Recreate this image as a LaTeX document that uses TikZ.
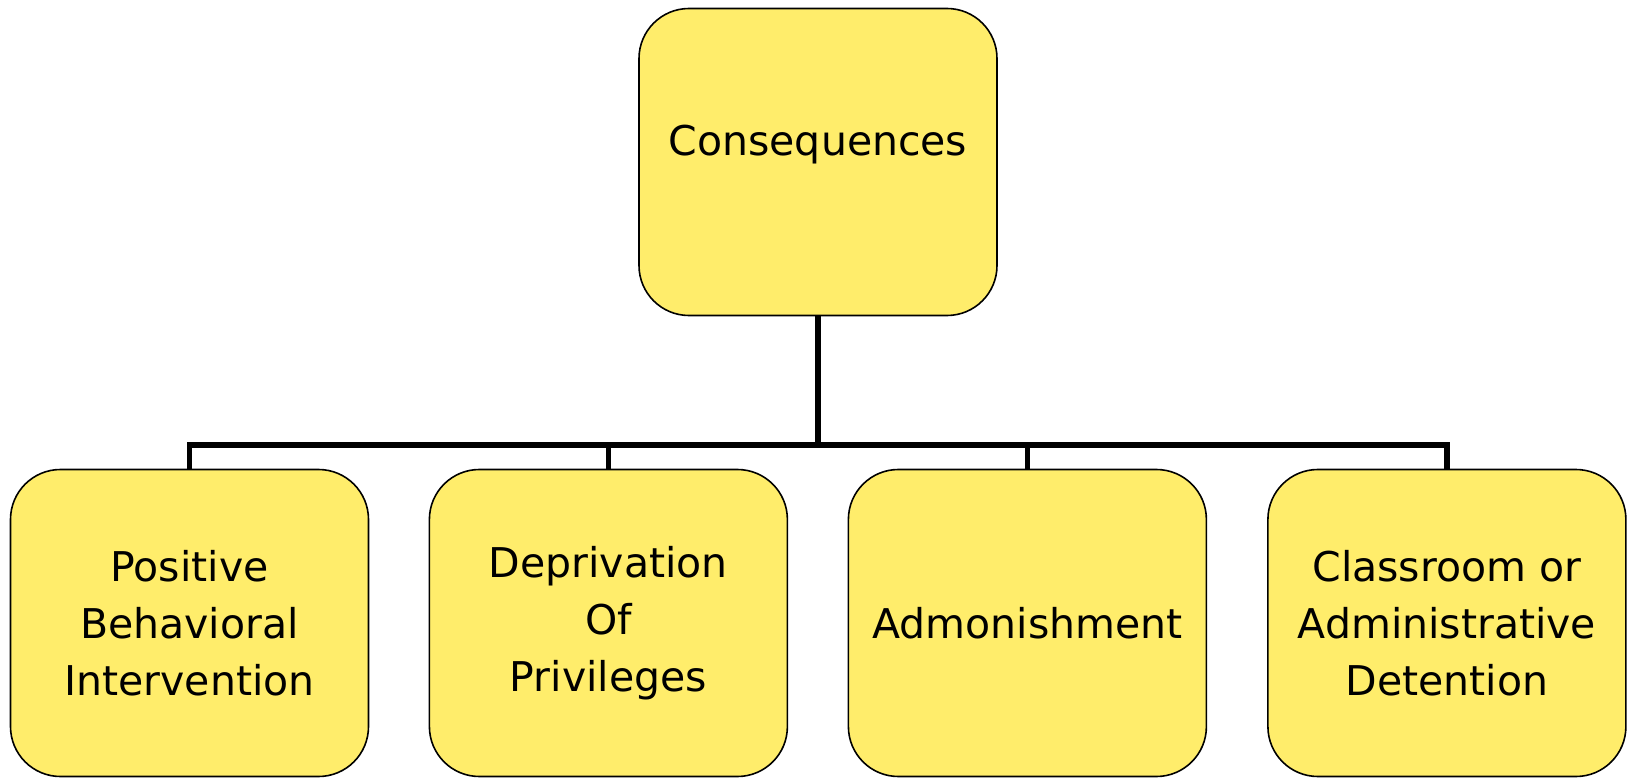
\documentclass[tikz,border=0pt]{standalone}
\usepackage{fontspec}
\setmainfont{DejaVu Sans}
\definecolor{boxfill}{RGB}{255,237,107}
\begin{document}
\begin{tikzpicture}[x=1pt,y=-1pt,
  card/.style={draw=black, line width=1.6pt, fill=boxfill, rounded corners=50pt,
    minimum width=358pt, minimum height=307pt, inner sep=0pt,
    font=\fontsize{41}{57}\selectfont, align=center, text=black},
  cardtext/.style={font=\fontsize{41}{57}\selectfont, align=center, text=black, inner sep=0pt},
  bus/.style={draw=black, line width=5.2pt}]
\useasboundingbox (0,0) rectangle (1628,778);

% connectors: one stem from the top card to a horizontal bus, drops to each card
\coordinate (j) at (818,445);
\node[card] (top) at (818,162) {};
\node[card] (b1) at (189.5,623) {Positive\\Behavioral\\Intervention};
\node[card] (b2) at (608.4,623) {Deprivation\\Of\\Privileges};
\node[card] (b3) at (1027.4,623) {Admonishment};
\node[card] (b4) at (1446.9,623) {Classroom or\\Administrative\\Detention};
\node[cardtext] (toptext) at (818,145) {Consequences};

\draw[bus] (top.south) -- (j);
\draw[bus] (b1.north) |- (j);
\draw[bus] (b2.north) |- (j);
\draw[bus] (b3.north) |- (j);
\draw[bus] (b4.north) |- (j);
\end{tikzpicture}
\end{document}
